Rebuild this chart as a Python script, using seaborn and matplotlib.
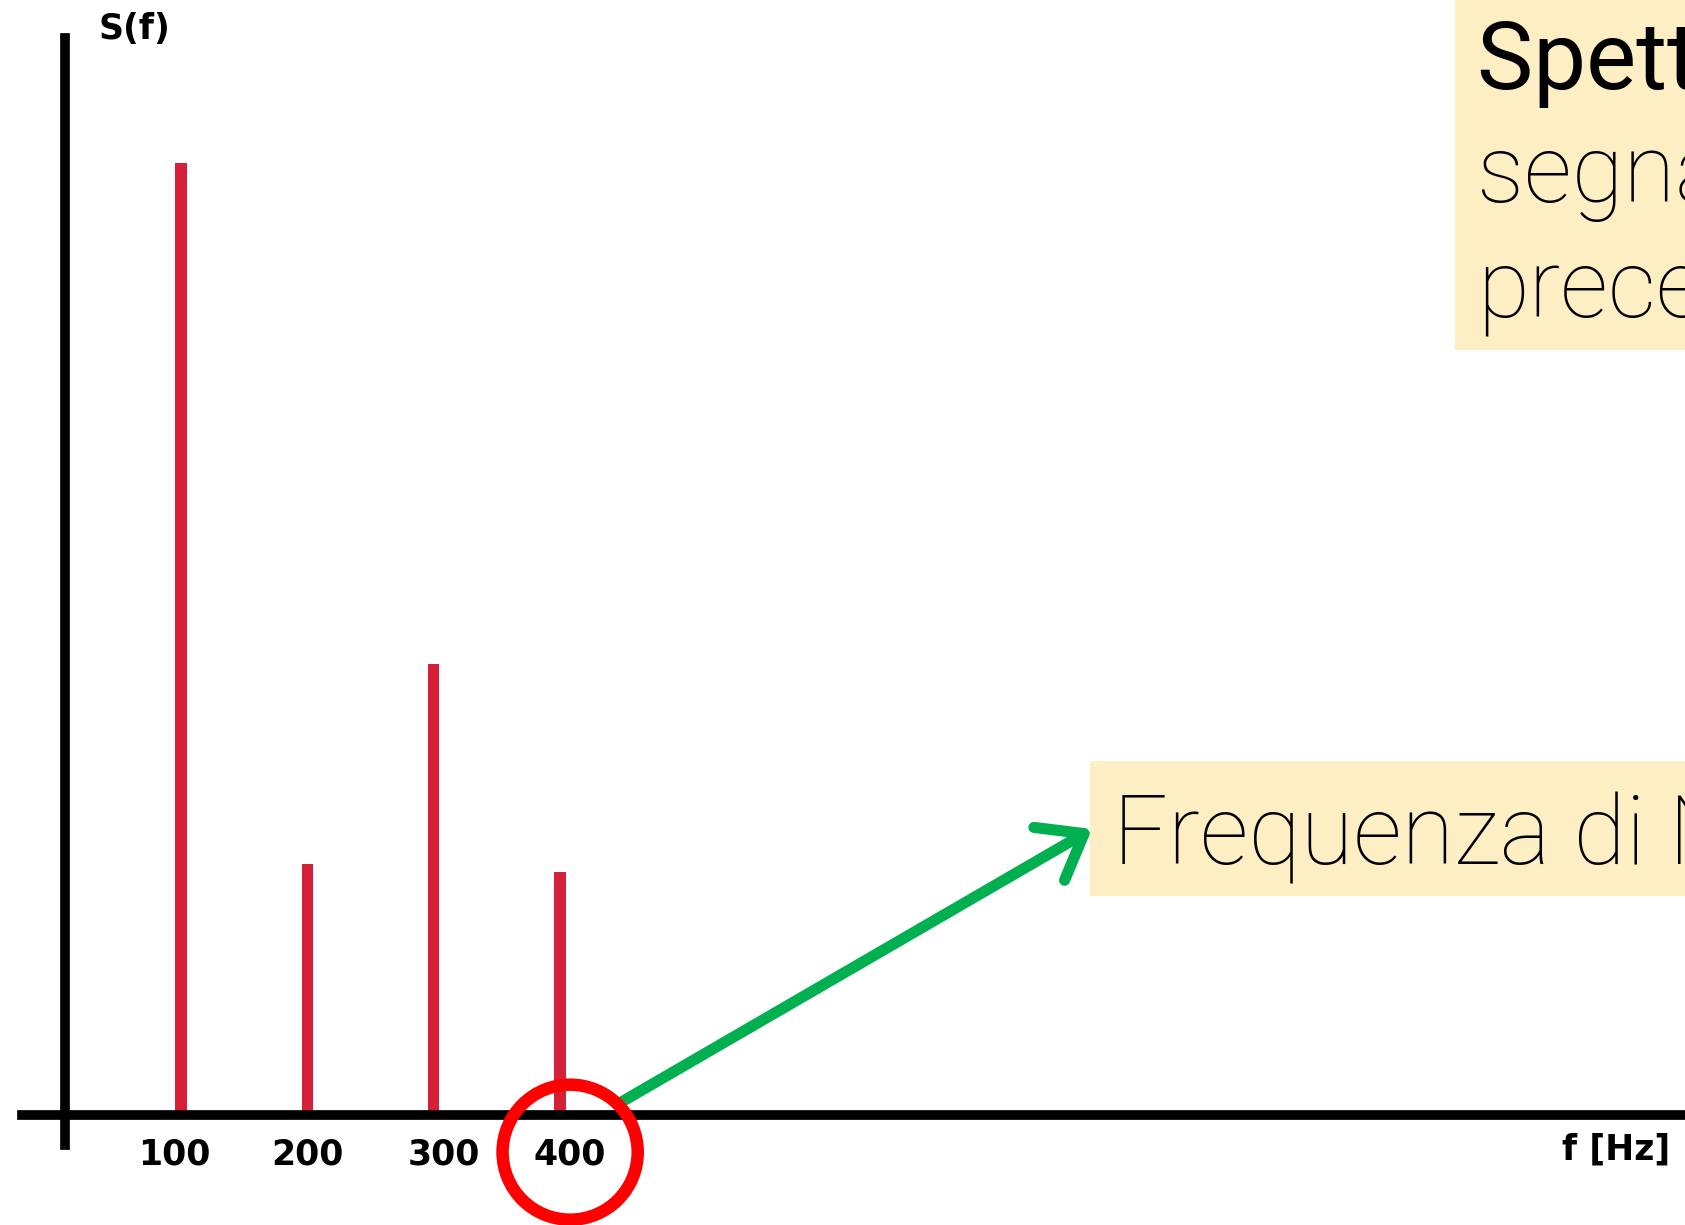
import matplotlib
matplotlib.use('Agg')
import matplotlib.pyplot as plt
import pandas as pd
import seaborn as sns
from matplotlib.patches import Ellipse, Rectangle
from matplotlib.transforms import ScaledTranslation

# spettro: frequenze (Hz) e ampiezze relative
freq = [100, 200, 300, 400]
ampiezza = [1.0, 0.264, 0.474, 0.255]
etichette = ['100', '200', '300', '400']
f_nyquist = 400

righe_titolo = ['Spettro del', 'segnale', 'precedente']
testo_nyquist = 'Frequenza di Nyquist'

sns.set_style('white')
plt.rcParams['font.family'] = ['DejaVu Sans']
plt.rcParams['text.color'] = 'black'

W, H = 1685, 1225
fig = plt.figure(figsize=(W / 100, H / 100), dpi=100)
ax = fig.add_axes([0, 0, 1, 1])

df = pd.DataFrame({'f': freq, 'S': ampiezza})
sns.barplot(data=df, x='f', y='S', native_scale=True, width=0.09,
            color='#D6203A', saturation=1, linewidth=0, errorbar=None, ax=ax)

# scala: 100 Hz ~ 126.3 px, ampiezza 1 ~ 952 px
ax.set_xlim(-43.3, 1290.5)
ax.set_ylim(-0.1155, 1.1712)
ax.set_xlabel('')
ax.set_ylabel('')

# assi a croce
ax.spines['top'].set_visible(False)
ax.spines['right'].set_visible(False)
ax.spines['left'].set_position(('data', 8.2))
ax.spines['left'].set_bounds(-0.0315, 1.131)
ax.spines['bottom'].set_position(('data', 0))
ax.spines['bottom'].set_bounds(-26, 1300)
for s in ['left', 'bottom']:
    ax.spines[s].set_linewidth(7)
    ax.spines[s].set_color('black')

ax.set_yticks([])
ax.set_xticks(freq, etichette)
ax.tick_params(axis='x', length=0, pad=16, labelsize=25, colors='black')
spost = [-7, 0, 10, 10]
for lab, dx in zip(ax.get_xticklabels(), spost):
    lab.set_fontweight('bold')
    lab.set_transform(lab.get_transform() + ScaledTranslation(dx / 100, 0, fig.dpi_scale_trans))

ax.text(134 / W, 1 - 29 / H, 'S(f)', transform=ax.transAxes, fontsize=25,
        ha='center', va='center', fontweight='bold')
ax.text(1616 / W, 1 - 1150 / H, 'f [Hz]', transform=ax.transAxes, fontsize=25,
        ha='center', va='center', fontweight='bold')

# cerchio rosso attorno a 400
cerchio = Ellipse((f_nyquist + 8, -0.039), width=107, height=0.1418,
                  fill=False, edgecolor='#FF0000', linewidth=9,
                  clip_on=False, zorder=6)
ax.add_patch(cerchio)

# freccia verde verso il riquadro
ax.annotate('', xy=(1092 / W, 1 - 829 / H), xycoords='figure fraction',
            xytext=(618 / W, 1 - 1104 / H), textcoords='figure fraction',
            arrowprops=dict(arrowstyle='->,head_length=2.9,head_width=2.2',
                            mutation_scale=10, color='#00B050', lw=8,
                            shrinkA=0, shrinkB=0, capstyle='round',
                            joinstyle='round'),
            zorder=5)

# riquadri gialli
giallo = '#FDEEC4'
fig.patches.append(Rectangle((1455 / W, 1 - 350 / H), 0.3, 0.4,
                             transform=fig.transFigure, facecolor=giallo,
                             edgecolor='none'))
fig.patches.append(Rectangle((1090 / W, 1 - 896 / H), 0.5, 135 / H,
                             transform=fig.transFigure, facecolor=giallo,
                             edgecolor='none'))

basi = [89, 202, 317]
for i, (riga, b) in enumerate(zip(righe_titolo, basi)):
    fig.text(1477 / W, 1 - b / H, riga, fontsize=68, ha='left', va='baseline',
             family=['Roboto', 'DejaVu Sans'], color='black',
             fontweight='normal' if i == 0 else 'light')
fig.text(1113 / W, 1 - 864 / H, testo_nyquist, fontsize=69, ha='left',
         va='baseline', family=['Roboto', 'DejaVu Sans'], color='black',
         fontweight='light')

fig.savefig('out.png', dpi=100)
